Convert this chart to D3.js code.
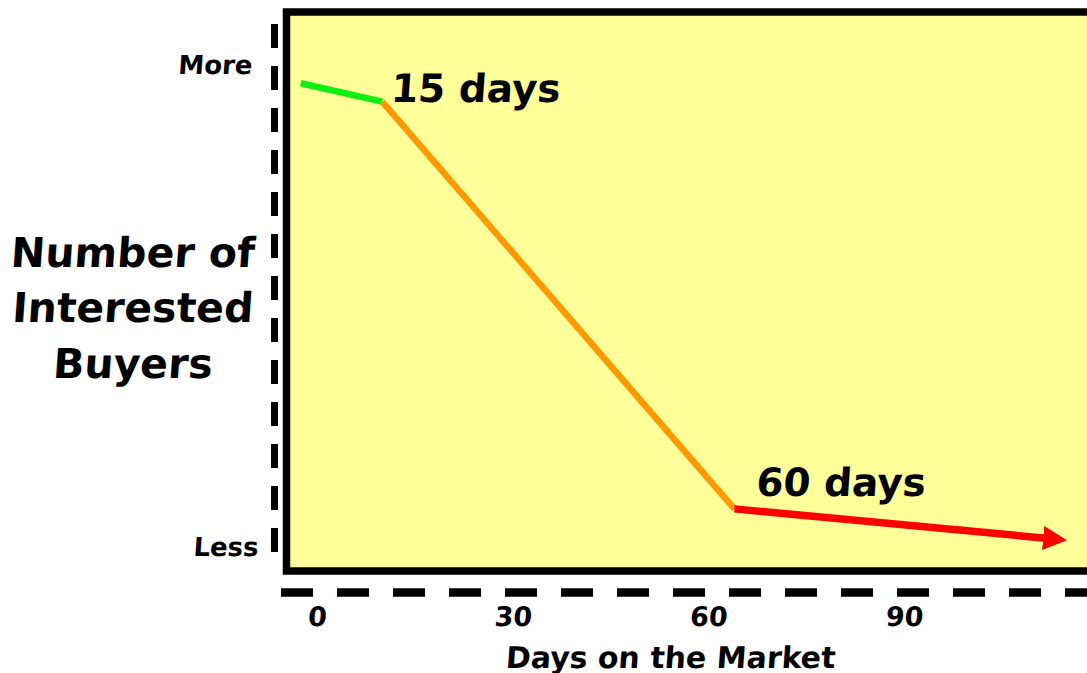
<!DOCTYPE html>
<html>
<head>
<meta charset="utf-8">
<script src="https://cdn.jsdelivr.net/npm/d3@7"></script>
<style>
  html, body { margin: 0; padding: 0; background: #ffffff; }
  svg { display: block; }
  text { font-family: "DejaVu Sans", "Open Sans", sans-serif; font-weight: 700; fill: #000; }
</style>
</head>
<body>
<svg id="chart" width="1087" height="673"></svg>
<script>
// ---- data ----
const segmentNames = ["start", "15 days", "60 days", "later"];
const days = [-2.5, 10, 64, 115];          // x positions of the breakpoints (days on market)
const interest = [96, 92.2, 7.7, 1.2];     // relative number of interested buyers (0 = Less, 100 = More)
const segmentColors = ["#11ee11", "#ff9900", "#ff0000"];
const xTicks = [0, 30, 60, 90];
const yTickLabels = ["Less", "More"];
const yTickValues = [0, 100];
const annotations = [{ idx: 1, text: "15 days" }, { idx: 2, text: "60 days" }];
const yTitleLines = ["Number of", "Interested", "Buyers"];
const xTitle = "Days on the Market";

const svg = d3.select("#chart");
const x = d3.scaleLinear().domain([0, 90]).range([317, 904]);
const y = d3.scaleLinear().domain([0, 100]).range([546, 64]);
const skew = "skewX(-4)";

// plot box
svg.append("rect")
  .attr("x", 286.5).attr("y", 12)
  .attr("width", 1087 - 286.5 + 20).attr("height", 571 - 12)
  .attr("fill", "#ffff99").attr("stroke", "#000").attr("stroke-width", 7.5);

// dashed vertical axis
svg.append("line")
  .attr("x1", 274.5).attr("x2", 274.5).attr("y1", 24).attr("y2", 553)
  .attr("stroke", "#000").attr("stroke-width", 7)
  .attr("stroke-dasharray", "24 18");

// dashed horizontal axis
svg.append("line")
  .attr("x1", 281).attr("x2", 1100).attr("y1", 592.5).attr("y2", 592.5)
  .attr("stroke", "#000").attr("stroke-width", 8.5)
  .attr("stroke-dasharray", "32 24");

// arrow marker
const defs = svg.append("defs");
defs.append("marker")
  .attr("id", "arrow").attr("markerUnits", "userSpaceOnUse")
  .attr("viewBox", "0 0 24 24").attr("refX", 2).attr("refY", 12)
  .attr("markerWidth", 24).attr("markerHeight", 24).attr("orient", "auto")
  .append("path").attr("d", "M0,0 L24,12 L0,24 Z").attr("fill", "#ff0000");

// line segments
const pts = days.map((d, i) => [x(d), y(interest[i])]);
for (let i = 0; i < pts.length - 1; i++) {
  let p0 = pts[i], p1 = pts[i + 1];
  const isLast = i === pts.length - 2;
  if (isLast) {
    // shorten so the arrowhead tip lands on the last point
    const dx = p1[0] - p0[0], dy = p1[1] - p0[1], L = Math.hypot(dx, dy);
    p1 = [p1[0] - dx / L * 22, p1[1] - dy / L * 22];
  }
  svg.append("path")
    .attr("d", d3.line()([p0, p1]))
    .attr("stroke", segmentColors[i])
    .attr("stroke-width", isLast ? 7.5 : 6.5)
    .attr("fill", "none")
    .attr("marker-end", isLast ? "url(#arrow)" : null);
}

// annotations
const annOffsets = { 1: [8, 0], 2: [21, -13] };
annotations.forEach(a => {
  const [px, py] = pts[a.idx];
  const off = annOffsets[a.idx];
  svg.append("text")
    .attr("transform", `translate(${px + off[0]},${py + off[1]}) ${skew}`)
    .attr("font-size", 39)
    .text(a.text);
});

// y tick labels
const yLabelX = { "More": 252, "Less": 258 };
yTickValues.forEach((v, i) => {
  svg.append("text")
    .attr("transform", `translate(${yLabelX[yTickLabels[i]]},${y(v) + 10}) ${skew}`)
    .attr("text-anchor", "end").attr("font-size", 26)
    .text(yTickLabels[i]);
});

// x tick labels
xTicks.forEach(t => {
  svg.append("text")
    .attr("transform", `translate(${x(t)},625.5) ${skew}`)
    .attr("text-anchor", "middle").attr("font-size", 27)
    .text(t);
});

// x title
svg.append("text")
  .attr("transform", `translate(670,667.5) ${skew}`)
  .attr("text-anchor", "middle").attr("font-size", 30)
  .text(xTitle);

// y title
yTitleLines.forEach((l, i) => {
  svg.append("text")
    .attr("transform", `translate(132,${266.5 + i * 55.5}) ${skew}`)
    .attr("text-anchor", "middle").attr("font-size", 41)
    .text(l);
});
</script>
</body>
</html>
